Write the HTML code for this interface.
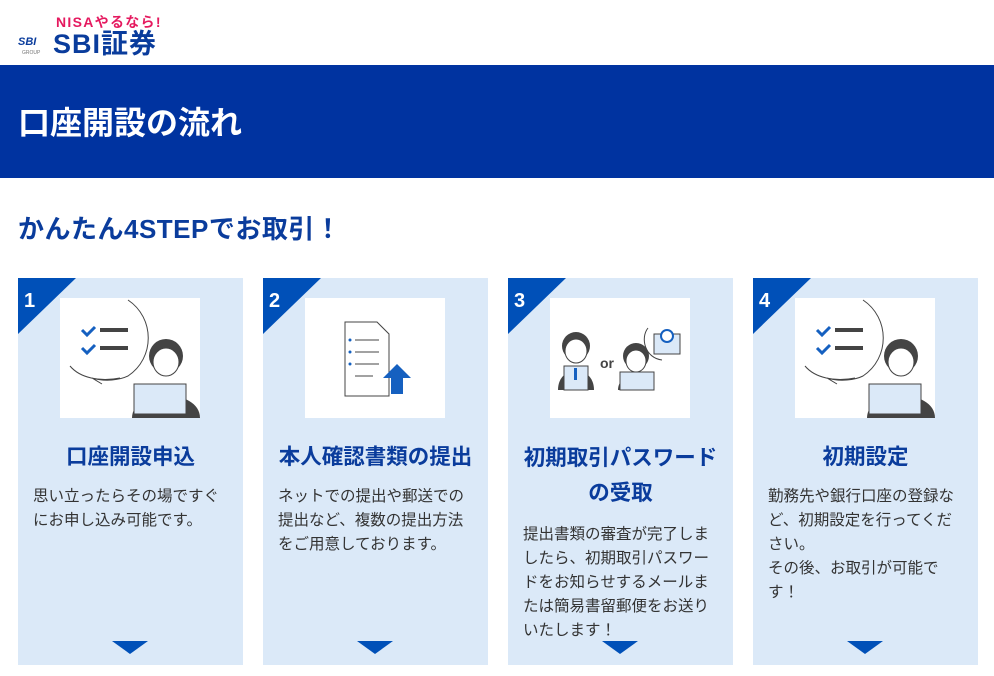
<!DOCTYPE html>
<html><head><meta charset="utf-8"><style>
*{margin:0;padding:0;box-sizing:border-box}
body{width:994px;height:676px;background:#fff;font-family:"Liberation Sans","Noto Sans CJK JP",sans-serif;position:relative;overflow:hidden}
.logo1{position:absolute;left:56px;top:12px;color:#e5195f;font-weight:bold;font-size:14px;letter-spacing:1.3px}
.logo2{position:absolute;left:53px;top:28px;color:#0a3c9c;font-weight:bold;font-size:27px;line-height:32px;letter-spacing:1px}
.sbi{position:absolute;left:18px;top:36px;color:#0a3c9c;font-weight:bold;font-style:italic;font-size:11px}
.grp{position:absolute;left:22px;top:50px;color:#777;font-size:5px}
.band{position:absolute;left:0;top:65px;width:994px;height:113px;background:#0033a0}
.band h1{position:absolute;left:18px;top:36px;color:#fff;font-size:32px;line-height:44px;font-weight:bold}
h2{position:absolute;left:18px;top:211px;color:#0a3c9c;font-size:26px;line-height:36px;font-weight:bold;letter-spacing:0.5px}
.card{position:absolute;top:278px;width:225px;height:387px;background:#dbe9f8}
.tri{position:absolute;left:0;top:0;width:0;height:0;border-top:56px solid #0050b8;border-right:58px solid transparent}
.num{position:absolute;left:6px;top:12px;color:#fff;font-weight:bold;font-size:20px}
.img{position:absolute;left:42px;top:20px;width:140px;height:120px;background:#fff}
.t{position:absolute;left:0;width:225px;top:162px;text-align:center;color:#0a3c9c;font-weight:bold;font-size:21.5px;line-height:35px}
.b{position:absolute;left:15px;width:194px;color:#333;font-size:15.5px;line-height:24px}
.arr{position:absolute;left:94px;top:363px;width:0;height:0;border-left:18px solid transparent;border-right:18px solid transparent;border-top:13px solid #0050b8}
</style></head><body>
<div class="logo1">NISAやるなら!</div>
<div class="sbi">SBI</div><div class="grp">GROUP</div>
<div class="logo2">SBI証券</div>
<div class="band"><h1>口座開設の流れ</h1></div>
<h2>かんたん4STEPでお取引！</h2>

<div class="card" style="left:18px"><div class="tri"></div><div class="num">1</div>
<div class="img"><svg width="140" height="120">
<path d="M68 2 C95 20 95 60 68 78 C60 82 45 84 32 80 L42 86 M60 80 C40 84 20 80 10 68" fill="none" stroke="#444"/>
<path d="M22 32l5 5 8-8M22 50l5 5 8-8" stroke="#1560c0" stroke-width="3" fill="none"/>
<rect x="40" y="30" width="28" height="4" fill="#444"/><rect x="40" y="48" width="28" height="4" fill="#444"/>
<circle cx="106" cy="58" r="17" fill="#444"/><ellipse cx="106" cy="64" rx="13" ry="14" fill="#fff" stroke="#444"/>
<path d="M72 120 C72 90 140 90 140 120Z" fill="#444"/>
<rect x="74" y="86" width="52" height="30" fill="#dbe9f8" stroke="#444"/></svg></div>
<div class="t">口座開設申込</div>
<div class="b" style="top:207px">思い立ったらその場ですぐにお申し込み可能です。</div><div class="arr"></div></div>

<div class="card" style="left:263px"><div class="tri"></div><div class="num">2</div>
<div class="img"><svg width="140" height="120">
<path d="M40 24h32l12 12v62H40z" fill="#fff" stroke="#444"/>
<path d="M50 42h24M50 54h24M50 66h24M50 78h18" stroke="#444"/>
<circle cx="45" cy="42" r="1.5" fill="#1560c0"/><circle cx="45" cy="54" r="1.5" fill="#1560c0"/><circle cx="45" cy="66" r="1.5" fill="#1560c0"/>
<path d="M92 66l14 14h-8v16h-12v-16h-8z" fill="#1560c0"/></svg></div>
<div class="t">本人確認書類の提出</div>
<div class="b" style="top:207px">ネットでの提出や郵送での提出など、複数の提出方法をご用意しております。</div><div class="arr"></div></div>

<div class="card" style="left:508px"><div class="tri"></div><div class="num">3</div>
<div class="img"><svg width="140" height="120">
<circle cx="26" cy="48" r="14" fill="#444"/><ellipse cx="26" cy="53" rx="11" ry="12" fill="#fff" stroke="#444"/>
<path d="M8 92C8 66 44 66 44 92Z" fill="#444"/><rect x="14" y="68" width="24" height="24" fill="#dbe9f8" stroke="#444"/><rect x="24" y="70" width="3" height="12" fill="#1560c0"/>
<text x="50" y="70" font-size="14" font-weight="bold" fill="#444" font-family="Liberation Sans">or</text>
<circle cx="86" cy="58" r="13" fill="#444"/><ellipse cx="86" cy="63" rx="10" ry="11" fill="#fff" stroke="#444"/>
<path d="M68 92C68 72 104 72 104 92Z" fill="#444"/><rect x="70" y="74" width="34" height="18" fill="#dbe9f8" stroke="#444"/>
<rect x="104" y="36" width="26" height="20" fill="#dbe9f8" stroke="#444"/><circle cx="117" cy="38" r="6" fill="#fff" stroke="#1560c0" stroke-width="2"/>
<path d="M98 30C90 40 95 60 112 62" fill="none" stroke="#444"/></svg></div>
<div class="t" style="top:163px">初期取引パスワード<br>の受取</div>
<div class="b" style="top:245px">提出書類の審査が完了しましたら、初期取引パスワードをお知らせするメールまたは簡易書留郵便をお送りいたします！</div><div class="arr"></div></div>

<div class="card" style="left:753px"><div class="tri"></div><div class="num">4</div>
<div class="img"><svg width="140" height="120">
<path d="M68 2 C95 20 95 60 68 78 C60 82 45 84 32 80 L42 86 M60 80 C40 84 20 80 10 68" fill="none" stroke="#444"/>
<path d="M22 32l5 5 8-8M22 50l5 5 8-8" stroke="#1560c0" stroke-width="3" fill="none"/>
<rect x="40" y="30" width="28" height="4" fill="#444"/><rect x="40" y="48" width="28" height="4" fill="#444"/>
<circle cx="106" cy="58" r="17" fill="#444"/><ellipse cx="106" cy="64" rx="13" ry="14" fill="#fff" stroke="#444"/>
<path d="M72 120 C72 90 140 90 140 120Z" fill="#444"/>
<rect x="74" y="86" width="52" height="30" fill="#dbe9f8" stroke="#444"/></svg></div>
<div class="t">初期設定</div>
<div class="b" style="top:207px">勤務先や銀行口座の登録など、初期設定を行ってください。<br>その後、お取引が可能です！</div><div class="arr"></div></div>
</body></html>
